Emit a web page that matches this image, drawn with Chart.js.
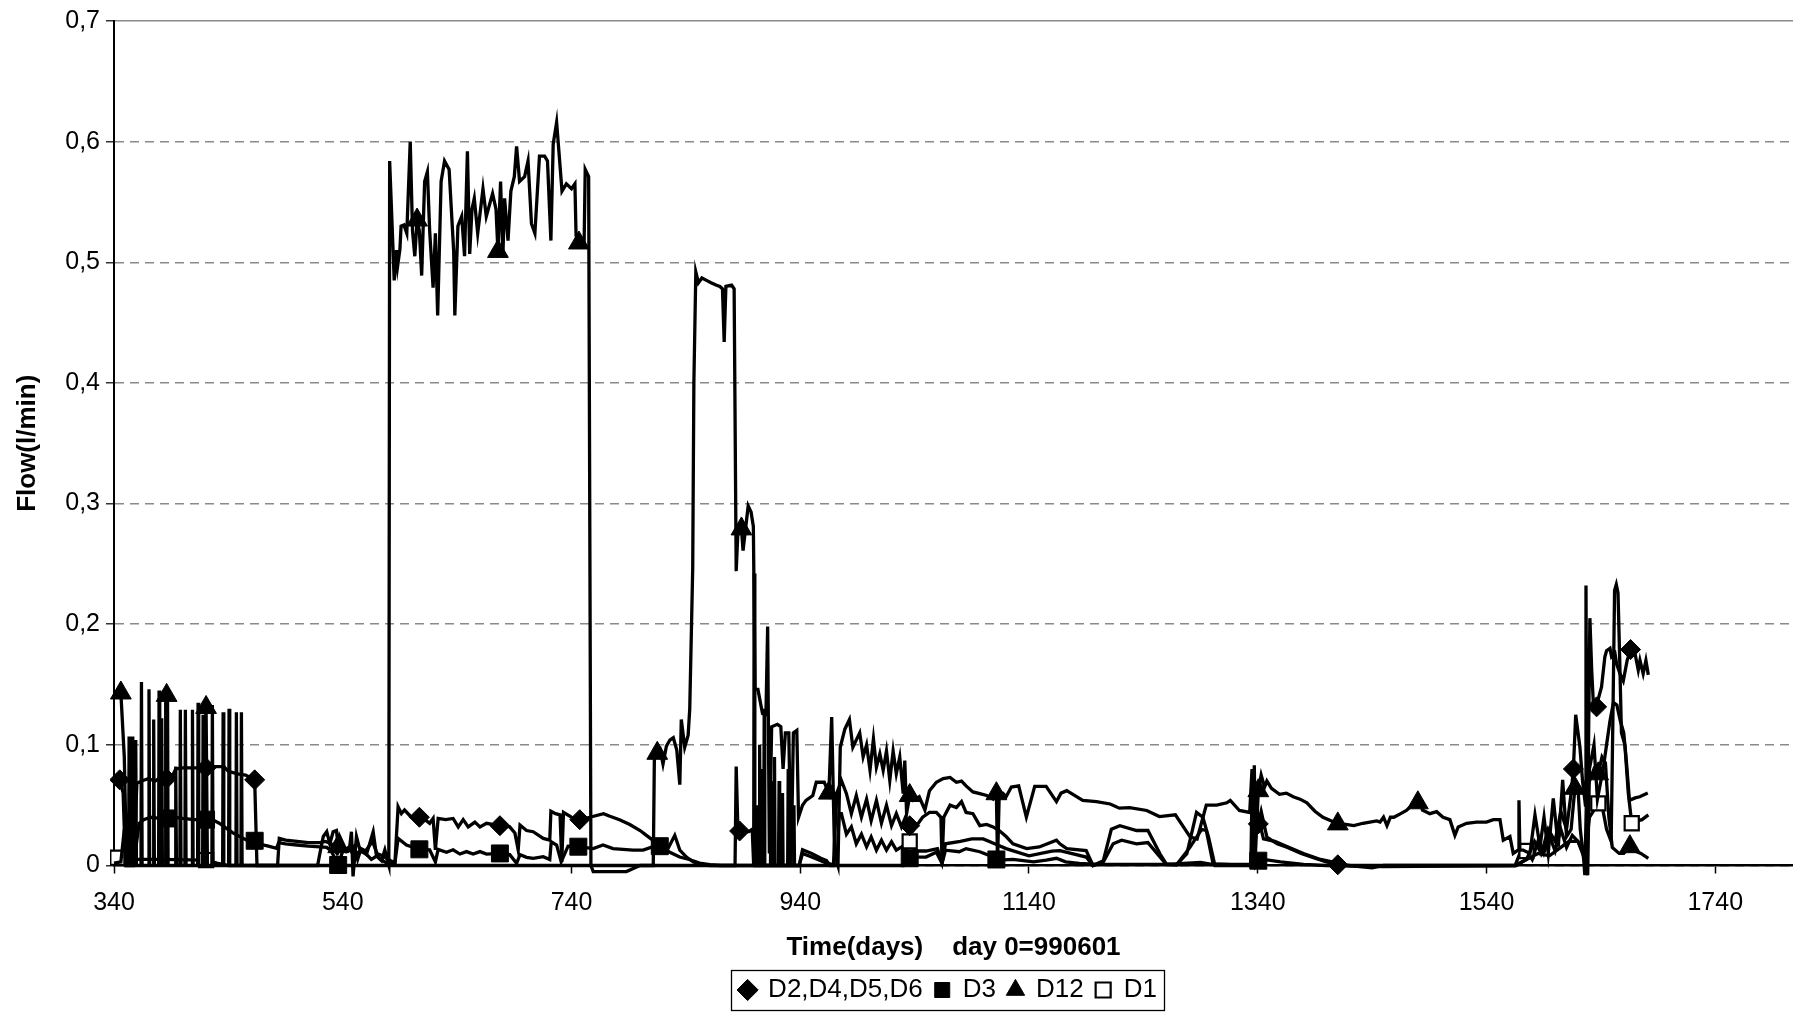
<!DOCTYPE html>
<html><head><meta charset="utf-8">
<script src="https://cdn.jsdelivr.net/npm/chart.js@4.4.1/dist/chart.umd.min.js"></script>
<style>html,body{margin:0;padding:0;background:#fff;overflow:hidden}#c{display:block}</style>
</head><body>
<canvas id="c" width="1793" height="1013"></canvas>
<script>
// ---------- DATA (day, flow l/min) ----------
const xTickValues = [340,540,740,940,1140,1340,1540,1740];
const yTickValues = [0,0.1,0.2,0.3,0.4,0.5,0.6,0.7];
const seriesNames = ['D2,D4,D5,D6','D3','D12','D1'];

const D2456 = [[340,0.071],[345,0.071],[348,0.06],[350,0.0],[357,0.0],[360,0.068],[364,0.07],[370,0.072],[376,0.07],[380,0.072],[386,0.072],[392,0.076],[394,0.08],[400,0.081],[410,0.081],[420.5,0.081],[426,0.082],[436,0.082],[440,0.078],[448,0.076],[455,0.075],[463,0.071],[465,0.0],[483,0.0],[484.5,0.0225],[490,0.021],[500,0.02],[510,0.019],[520,0.019],[525,0.02],[530,0.018],[535,0.01],[540,0.015],[545,0.012],[550,0.016],[553,0.005],[556,0.014],[560,0.012],[566,0.02],[570,0.01],[575,0.008],[580,0.005],[585.6,0.002],[588.4,0.0487],[591.3,0.043],[594,0.046],[600,0.04],[607,0.04],[612,0.038],[616,0.035],[619,0.039],[621,0.013],[623.4,0.039],[630,0.038],[636.5,0.039],[641,0.032],[645.3,0.038],[649.7,0.032],[655.5,0.036],[660,0.032],[665.7,0.035],[671,0.034],[677.4,0.033],[686,0.032],[690.5,0.027],[693.4,0.0128],[695,0.0335],[700.7,0.029],[706.5,0.028],[715.3,0.0225],[721,0.021],[722,0.045],[726,0.043],[730,0.042],[731.5,0.003],[733,0.044],[740,0.04],[747.2,0.038],[756,0.04],[768,0.043],[773,0.041],[782,0.038],[791,0.034],[800,0.029],[805.5,0.025],[811,0.021],[817,0.017],[826,0.011],[834.6,0.007],[843,0.005],[852,0.002],[861,0.0007],[870,0.0],[883,0.0],[884,0.082],[885.5,0.03],[887,0.0286],[891,0.028],[895,0.028],[898,0.03],[899.3,0.0],[899.7,0.242],[900.3,0.0],[904,0.0],[904.5,0.1],[905,0.0],[908,0.0],[908.5,0.13],[909,0.0],[917,0.0],[917.5,0.09],[918,0.0],[929,0.0],[929.5,0.08],[930,0.0],[939,0.0],[942,0.013],[950,0.01],[958,0.006],[963,0.004],[966,0.0],[969,0.0],[972,0.06],[976,0.0705],[980.4,0.0595],[984.7,0.043],[989,0.058],[993.5,0.04],[998,0.055],[1002,0.037],[1006.6,0.054],[1011,0.035],[1015.4,0.05],[1019.8,0.033],[1024,0.043],[1028.5,0.032],[1032,0.04],[1035.7,0.033],[1038.6,0.029],[1047,0.04],[1053,0.044],[1059,0.044],[1063,0.04],[1064,0.002],[1065.5,0.04],[1071,0.05],[1076.5,0.048],[1081,0.053],[1085,0.044],[1091,0.043],[1097,0.033],[1103,0.034],[1108.6,0.032],[1114,0.029],[1120,0.024],[1126,0.018],[1138,0.014],[1149,0.0154],[1164,0.021],[1167,0.018],[1173,0.014],[1190,0.0124],[1196,0.0],[1205,0.004],[1212,0.03],[1219.5,0.033],[1234,0.029],[1244,0.029],[1254.5,0.0097],[1260,0.0014],[1269,0.0006],[1278,0.0097],[1286.5,0.044],[1292,0.04],[1297,0.0235],[1302.6,0.0],[1334,0.0],[1335,0.06],[1336.5,0.01],[1338,0.045],[1340.5,0.0345],[1343,0.045],[1348,0.0235],[1357,0.018],[1366,0.015],[1378,0.01],[1390,0.006],[1400,0.003],[1410,0.0006],[1420,0.0],[1440,-0.002],[1450,0.0],[1566,0.0],[1575,0.005],[1582,0.02],[1588,0.01],[1594,0.03],[1600,0.02],[1605,0.045],[1610,0.03],[1614,0.06],[1616,0.08],[1618,0.125],[1621.7,0.098],[1624,0.07],[1626.5,0.05],[1627,0.232],[1628,-0.006],[1630.4,0.205],[1632,0.162],[1633.3,0.137],[1636.3,0.1315],[1637.7,0.138],[1640.6,0.148],[1643.5,0.173],[1645,0.178],[1648,0.18],[1649.4,0.173],[1652.3,0.176],[1653.8,0.167],[1656.7,0.159],[1659.6,0.153],[1663,0.17],[1666,0.179],[1669.8,0.176],[1672.7,0.162],[1674.2,0.17],[1677,0.159],[1679.4,0.17],[1681.5,0.158]];

const D3 = [[340,0.002],[346,0.003],[349,0.03],[351,0.0],[355,0.03],[357,0.0],[362,0.035],[366,0.038],[372,0.04],[380,0.039],[386,0.039],[392,0.04],[400,0.039],[410,0.038],[420.5,0.038],[426,0.038],[432,0.035],[438,0.031],[444,0.027],[450,0.024],[456,0.021],[463,0.0205],[466,0.018],[475,0.016],[482,0.0142],[484,0.019],[490,0.018],[500,0.017],[510,0.016],[520,0.0155],[526,0.015],[530,0.012],[536,0.0004],[540,0.012],[545,0.015],[550,0.008],[555,0.012],[560,0.01],[565,0.005],[570,0.008],[575,0.004],[580,0.001],[585.6,0.002],[588.4,0.0225],[595.7,0.017],[607,0.0134],[616,0.013],[621,0.003],[623.4,0.0134],[630.7,0.011],[636.5,0.013],[642.4,0.0095],[648.2,0.0115],[654,0.0095],[660,0.0115],[665.7,0.0095],[677.4,0.01],[686,0.009],[692,0.0018],[695,0.009],[700.7,0.0068],[706.5,0.006],[715.3,0.0073],[721,0.005],[722.3,0.0197],[727,0.017],[731,0.003],[737,0.016],[746,0.0156],[759,0.014],[767.6,0.017],[776.3,0.014],[785,0.0134],[793.8,0.0128],[802.6,0.0128],[811.3,0.0156],[817.2,0.016],[823,0.0115],[830.3,0.025],[834.7,0.0128],[840.5,0.007],[846.3,0.003],[852,0.0012],[861,0.0],[901,0.0],[901.5,0.05],[902,0.0],[914,0.0],[914.5,0.07],[915,0.0],[924,0.0],[924.5,0.06],[925,0.0],[939,0.0],[942,0.01],[950,0.007],[958,0.004],[963,0.002],[972,0.0],[974,0.043],[976,0.043],[980.4,0.026],[984.7,0.032],[989,0.018],[993.5,0.026],[998,0.0154],[1002,0.0237],[1006.6,0.0127],[1011,0.021],[1015.4,0.0127],[1019.8,0.0196],[1024,0.0127],[1028.5,0.0154],[1032,0.01],[1035.7,0.006],[1038.6,0.007],[1050,0.007],[1059,0.011],[1064,0.0017],[1067,0.0127],[1079,0.0114],[1085,0.014],[1097,0.0114],[1108.6,0.007],[1111.5,0.005],[1114,0.0044],[1126,0.005],[1144,0.003],[1155,0.0044],[1164,0.006],[1172,0.003],[1184,0.0017],[1200,0.001],[1260,0.001],[1290,0.0025],[1300,0.001],[1334,0.001],[1336,0.02],[1338,0.0],[1340.5,0.004],[1345,0.005],[1360,0.003],[1380,0.001],[1400,0.0],[1450,-0.001],[1565,0.0],[1575,0.005],[1585,0.01],[1595,0.008],[1605,0.015],[1612,0.02],[1620,0.02],[1625,0.01],[1628.5,-0.008],[1630,0.08],[1634,0.1],[1637,0.055],[1642,0.08],[1645,0.1],[1648,0.12],[1651,0.135],[1654,0.133],[1657,0.12],[1660,0.11],[1662,0.09],[1665,0.054],[1670,0.056],[1674,0.057],[1681,0.06]];

const D12 = [[340,0.143],[346,0.143],[349,0.09],[351,0.0],[352.8,0.0],[353.2,0.107],[353.8,0.0],[355.4,0.0],[355.8,0.107],[356.4,0.0],[358.6,0.0],[359,0.104],[359.6,0.0],[363.6,0.0],[364,0.152],[364.6,0.0],[370.2,0.0],[370.6,0.146],[371.2,0.0],[374.3,0.0],[374.7,0.121],[375.3,0.0],[379,0.0],[379.4,0.145],[380,0.0],[381.3,0.0],[381.7,0.122],[382.3,0.0],[384.8,0.0],[385.2,0.141],[386,0.141],[386.8,0.141],[387.3,0.0],[393.6,0.0],[394,0.082],[394.6,0.0],[397.6,0.0],[398,0.129],[398.6,0.0],[402,0.0],[402.4,0.129],[403,0.0],[408.2,0.0],[408.6,0.129],[409.2,0.0],[413.1,0.0],[413.5,0.135],[414.1,0.0],[417.5,0.0],[417.9,0.125],[418.5,0.0],[419.8,0.0],[420.2,0.131],[420.5,0.131],[421.2,0.131],[421.7,0.0],[425.6,0.0],[426,0.133],[426.6,0.0],[435,0.0],[435.4,0.127],[436,0.0],[440.2,0.0],[440.6,0.13],[441.2,0.0],[446.6,0.0],[447,0.127],[447.6,0.0],[451,0.0],[451.4,0.127],[452,0.0],[518,0.0],[520,0.01],[523,0.024],[526,0.028],[528.7,0.018],[531.6,0.028],[534.5,0.029],[536,0.0156],[537.4,0.024],[540.3,0.018],[543.2,0.012],[546,0.015],[547.6,0.028],[549,-0.009],[552,0.024],[555,0.013],[560.7,0.009],[566.6,0.028],[569.5,0.008],[573.9,0.004],[576.8,0.013],[579.7,0.002],[580.3,0.0],[581,0.584],[585,0.485],[587,0.51],[588,0.497],[590,0.511],[591,0.53],[593.5,0.531],[596,0.524],[599,0.6],[601,0.526],[603,0.505],[605,0.535],[607,0.526],[609,0.489],[611.6,0.567],[614,0.575],[616,0.526],[619,0.479],[621,0.524],[623,0.456],[626,0.567],[629,0.584],[633,0.577],[637,0.509],[638,0.456],[640.7,0.53],[644,0.538],[646.5,0.505],[649,0.592],[651,0.507],[653,0.544],[655,0.553],[658,0.524],[662.6,0.561],[665.5,0.538],[671,0.557],[674,0.544],[675.7,0.509],[678,0.567],[680,0.505],[681.5,0.553],[684.5,0.518],[687,0.559],[690,0.571],[692,0.596],[694.6,0.567],[699,0.571],[702,0.584],[705,0.532],[708,0.524],[712,0.588],[716.5,0.588],[719,0.584],[722,0.518],[724,0.598],[727,0.616],[729,0.592],[731.7,0.559],[735.5,0.565],[740,0.561],[743,0.565],[744,0.522],[746.5,0.516],[751,0.514],[752,0.577],[755,0.571],[757,0.0],[759,-0.005],[788,-0.005],[795,-0.002],[800,0.0],[811.5,0.0],[812.5,0.093],[815,0.093],[817.5,0.096],[820,0.084],[823,0.099],[826,0.104],[829,0.106],[832,0.096],[834.7,0.067],[836,0.121],[839,0.098],[842,0.108],[843.4,0.13],[846,0.247],[847,0.4],[848.7,0.492],[851,0.483],[854,0.487],[858,0.485],[862,0.483],[866.8,0.481],[869.7,0.48],[872,0.478],[873.5,0.434],[875,0.48],[880,0.481],[882.2,0.478],[884,0.244],[885.7,0.281],[888.6,0.279],[890,0.261],[892.4,0.281],[894.5,0.298],[897,0.293],[899,0.281],[900.5,0.146],[903,0.146],[907,0.126],[910,0.125],[911.5,0.198],[913,0.01],[915,0.115],[920,0.117],[923,0.115],[925,0.08],[927,0.11],[930,0.11],[932,0.0],[934,0.11],[937,0.112],[938.5,0.04],[942,0.05],[945,0.054],[951,0.058],[954,0.069],[961,0.069],[965,0.06],[967.5,0.123],[970,0.01],[973,0.0],[975,0.098],[979,0.113],[983,0.121],[986,0.098],[992,0.11],[995,0.09],[998,0.1],[1001,0.079],[1004,0.105],[1006.6,0.0815],[1009.6,0.0926],[1012.5,0.079],[1015.4,0.095],[1018.3,0.0705],[1021.2,0.095],[1024,0.076],[1027,0.09],[1030,0.0595],[1031.4,0.087],[1033,0.043],[1035.7,0.058],[1038.6,0.054],[1044,0.057],[1049,0.046],[1053,0.062],[1059,0.069],[1065,0.072],[1071,0.073],[1076.5,0.069],[1081,0.07],[1085,0.066],[1091,0.061],[1097,0.0595],[1103,0.058],[1108.6,0.055],[1111.5,0.0595],[1112.5,0.002],[1114,0.06],[1117,0.06],[1120,0.057],[1124.6,0.065],[1131,0.066],[1137.7,0.04],[1145,0.0656],[1155,0.0656],[1164,0.053],[1168,0.06],[1173,0.062],[1187,0.054],[1199,0.053],[1211,0.051],[1219,0.0475],[1228,0.048],[1243,0.0456],[1254,0.0406],[1268,0.042],[1281,0.0235],[1287,0.022],[1295,0.05],[1304,0.05],[1313,0.052],[1316,0.054],[1324,0.0456],[1333,0.044],[1335,0.08],[1336,0.005],[1337,0.083],[1338,0.01],[1340.5,0.062],[1343,0.075],[1346,0.065],[1348,0.07],[1352,0.064],[1359,0.059],[1365,0.06],[1371,0.057],[1377,0.055],[1383,0.052],[1390,0.045],[1397,0.04],[1404,0.037],[1410,0.0345],[1417,0.034],[1424,0.033],[1432,0.035],[1444,0.037],[1447,0.036],[1450,0.04],[1453,0.033],[1456,0.04],[1459,0.04],[1465,0.043],[1470,0.0456],[1475,0.05],[1480,0.052],[1482,0.054],[1484,0.046],[1490.5,0.043],[1496.4,0.0446],[1502,0.04],[1508,0.038],[1512.4,0.025],[1515.3,0.032],[1522.6,0.035],[1531.4,0.036],[1540,0.036],[1546,0.038],[1551.8,0.038],[1554.7,0.021],[1560.5,0.024],[1563.4,0.01],[1567.6,0.0128],[1568.4,0.054],[1569.2,0.0128],[1572,0.0128],[1578,0.01],[1582.4,0.042],[1586.8,0.0156],[1590.3,0.04],[1594,0.01],[1598.4,0.0556],[1602.8,0.0156],[1606.6,0.071],[1610,0.024],[1614,0.03],[1617.3,0.064],[1620,0.065],[1622,0.03],[1625,0.005],[1626,-0.008],[1627.5,0.06],[1630,0.07],[1634,0.08],[1637.7,0.076],[1641,0.09],[1644,0.085],[1647,0.04],[1650,0.015],[1656,0.01],[1660,0.01],[1665.4,0.0156],[1670,0.012],[1675,0.01],[1681.5,0.006]];

const D1 = [[340,0.0065],[343,0.0065],[348,0.0065],[350,0.005],[380,0.005],[420.5,0.0045],[430,0.002],[440,0.0],[906,0.0],[906.5,0.08],[907,0.0],[921,0.0],[921.5,0.07],[922,0.0],[934,0.0],[934.5,0.05],[935,0.0],[1030,0.0],[1033,0.015],[1035.7,0.02],[1041,0.012],[1050,0.012],[1060,0.014],[1064,0.002],[1067,0.018],[1080,0.02],[1090,0.022],[1100,0.022],[1110,0.018],[1120,0.014],[1140,0.008],[1160,0.012],[1167,0.0124],[1178.7,0.0097],[1190,0.007],[1196,0.0],[1205,0.003],[1213.6,0.018],[1221,0.021],[1234,0.018],[1244,0.019],[1254.5,0.007],[1260,0.001],[1269,0.0006],[1280.7,0.015],[1291,0.03],[1295,0.029],[1301,0.0014],[1334,0.0],[1336,0.03],[1338,0.05],[1340.5,0.04],[1345,0.022],[1355,0.02],[1365,0.016],[1380,0.01],[1395,0.005],[1410,0.002],[1420,0.0],[1565,0.0],[1570,0.012],[1575,0.012],[1580,0.005],[1585,0.02],[1590,0.01],[1595,0.025],[1600,0.012],[1605,0.03],[1610,0.015],[1615,0.025],[1620,0.02],[1626,0.005],[1630,0.04],[1637.8,0.0515],[1641,0.05],[1645,0.03],[1649,0.02],[1650.5,0.12],[1652,0.228],[1653.5,0.233],[1655,0.226],[1656.5,0.17],[1658,0.11],[1661,0.1],[1664,0.06],[1667,0.035],[1672,0.037],[1676,0.038],[1681.5,0.042]];

// days at which the series show a marker
const markD2456 = [345,386,420.5,463,607,677.4,747.2,887,1035.7,1340.5,1410,1616,1636.3,1666];
const markD3 = [386,420.5,463,536,607,677.4,746,817.2,1035.7,1111.5,1340.5];
const markD12 = [346,386,420.5,536,605,675.7,746.5,815,888.6,965,1035.7,1111.5,1340.5,1410,1480,1617.3,1637.7,1665.4];
const markD1 = [343,420.5,1035.7,1575,1637.8,1667];

// ---------- CHART ----------
const FONT = "'Liberation Sans', Arial, sans-serif";
const TICK_FONT = {family: FONT, size: 25};
const TITLE_FONT = {family: FONT, size: 26, weight: 'bold'};
const LEGEND_FONT = {family: FONT, size: 26};

function markerIndexSet(data, days) {
  const s = new Set();
  days.forEach(d => {
    let bi = 0, bd = Infinity;
    data.forEach((p, i) => { const dd = Math.abs(p[0] - d); if (dd < bd) { bd = dd; bi = i; } });
    s.add(bi);
  });
  return s;
}

function makeSet(label, data, marks, style, radius, fillCol, bw) {
  const idx = markerIndexSet(data, marks);
  return {
    label: label,
    data: data.map(p => ({x: p[0], y: p[1]})),
    borderColor: '#000',
    backgroundColor: fillCol,
    borderWidth: 3.3,
    fill: false,
    tension: 0,
    pointStyle: style,
    pointBackgroundColor: fillCol,
    pointBorderColor: '#000',
    pointBorderWidth: bw,
    pointRadius: c => idx.has(c.dataIndex) ? radius : 0,
    pointHoverRadius: c => idx.has(c.dataIndex) ? radius : 0,
    clip: {left: 4, top: 4, right: 0, bottom: 14}
  };
}

const datasets = [
  makeSet(seriesNames[0], D2456, markD2456, 'rectRot', 10, '#000', 1),
  makeSet(seriesNames[1], D3, markD3, 'rect', 12, '#000', 1),
  makeSet(seriesNames[2], D12, markD12, 'triangle', 12, '#000', 1),
  makeSet(seriesNames[3], D1, markD1, 'rect', 10, '#fff', 2.2)
];

const LEGEND_SHIFT = 52;
const legendBox = {
  id: 'legendBox',
  afterLayout(chart) {
    const lg = chart.legend;
    if (lg) { lg.left += LEGEND_SHIFT; lg.right += LEGEND_SHIFT; }
  },
  afterDraw(chart) {
    const lg = chart.legend;
    if (!lg || !lg.legendHitBoxes || !lg.legendHitBoxes.length) return;
    const hb = lg.legendHitBoxes;
    let l = Infinity, r = -Infinity, t = Infinity, b = -Infinity;
    hb.forEach(h => { l = Math.min(l, h.left); r = Math.max(r, h.left + h.width); t = Math.min(t, h.top); b = Math.max(b, h.top + h.height); });
    const ctx = chart.ctx;
    ctx.save();
    ctx.strokeStyle = '#000';
    ctx.lineWidth = 1.3;
    ctx.strokeRect(Math.round(l - 9) + 0.5, Math.round(t - 7) + 0.5, Math.round(r - l + 16), Math.round(b - t + 14));
    ctx.restore();
  }
};

new Chart(document.getElementById('c'), {
  type: 'line',
  data: {datasets},
  plugins: [legendBox],
  options: {
    responsive: false,
    animation: false,
    devicePixelRatio: 1,
    events: [],
    layout: {padding: {top: 19, left: 0, right: 0, bottom: 0}},
    plugins: {
      tooltip: {enabled: false},
      legend: {
        position: 'bottom',
        labels: {usePointStyle: true, boxWidth: 15, boxHeight: 15, padding: 12, font: LEGEND_FONT, color: '#000'}
      }
    },
    scales: {
      x: {
        type: 'linear', min: 340, max: 1808,
        afterBuildTicks: s => { s.ticks = xTickValues.map(v => ({value: v})); },
        afterFit: s => { s.height = 99.5; },
        grid: {drawOnChartArea: false, drawTicks: true, tickLength: 8, tickColor: '#000', tickWidth: 1.5},
        border: {display: true, color: '#000', width: 2.5},
        ticks: {font: TICK_FONT, color: '#000', padding: 15, maxRotation: 0, autoSkip: false, callback: v => String(v)},
        title: {display: true, text: 'Time(days)    day 0=990601', font: TITLE_FONT, color: '#000', padding: {top: 0, bottom: 2}}
      },
      y: {
        min: 0, max: 0.7,
        afterBuildTicks: s => { s.ticks = yTickValues.map(v => ({value: v})); },
        afterFit: s => { s.width = 114; },
        grid: {color: '#8a8a8a', lineWidth: 1.5, drawTicks: true, tickLength: 8, tickColor: '#333', tickWidth: 1.5},
        border: {display: true, color: '#000', width: 2, dash: c => (c.tick && c.tick.value > 0.65) ? [] : [9, 6]},
        ticks: {font: TICK_FONT, color: '#000', padding: 6, callback: v => v === 0 ? '0' : v.toFixed(1).replace('.', ',')},
        title: {display: true, text: 'Flow(l/min)', font: TITLE_FONT, color: '#000', padding: {top: 12, bottom: 0}}
      }
    }
  }
});
</script>
</body></html>
